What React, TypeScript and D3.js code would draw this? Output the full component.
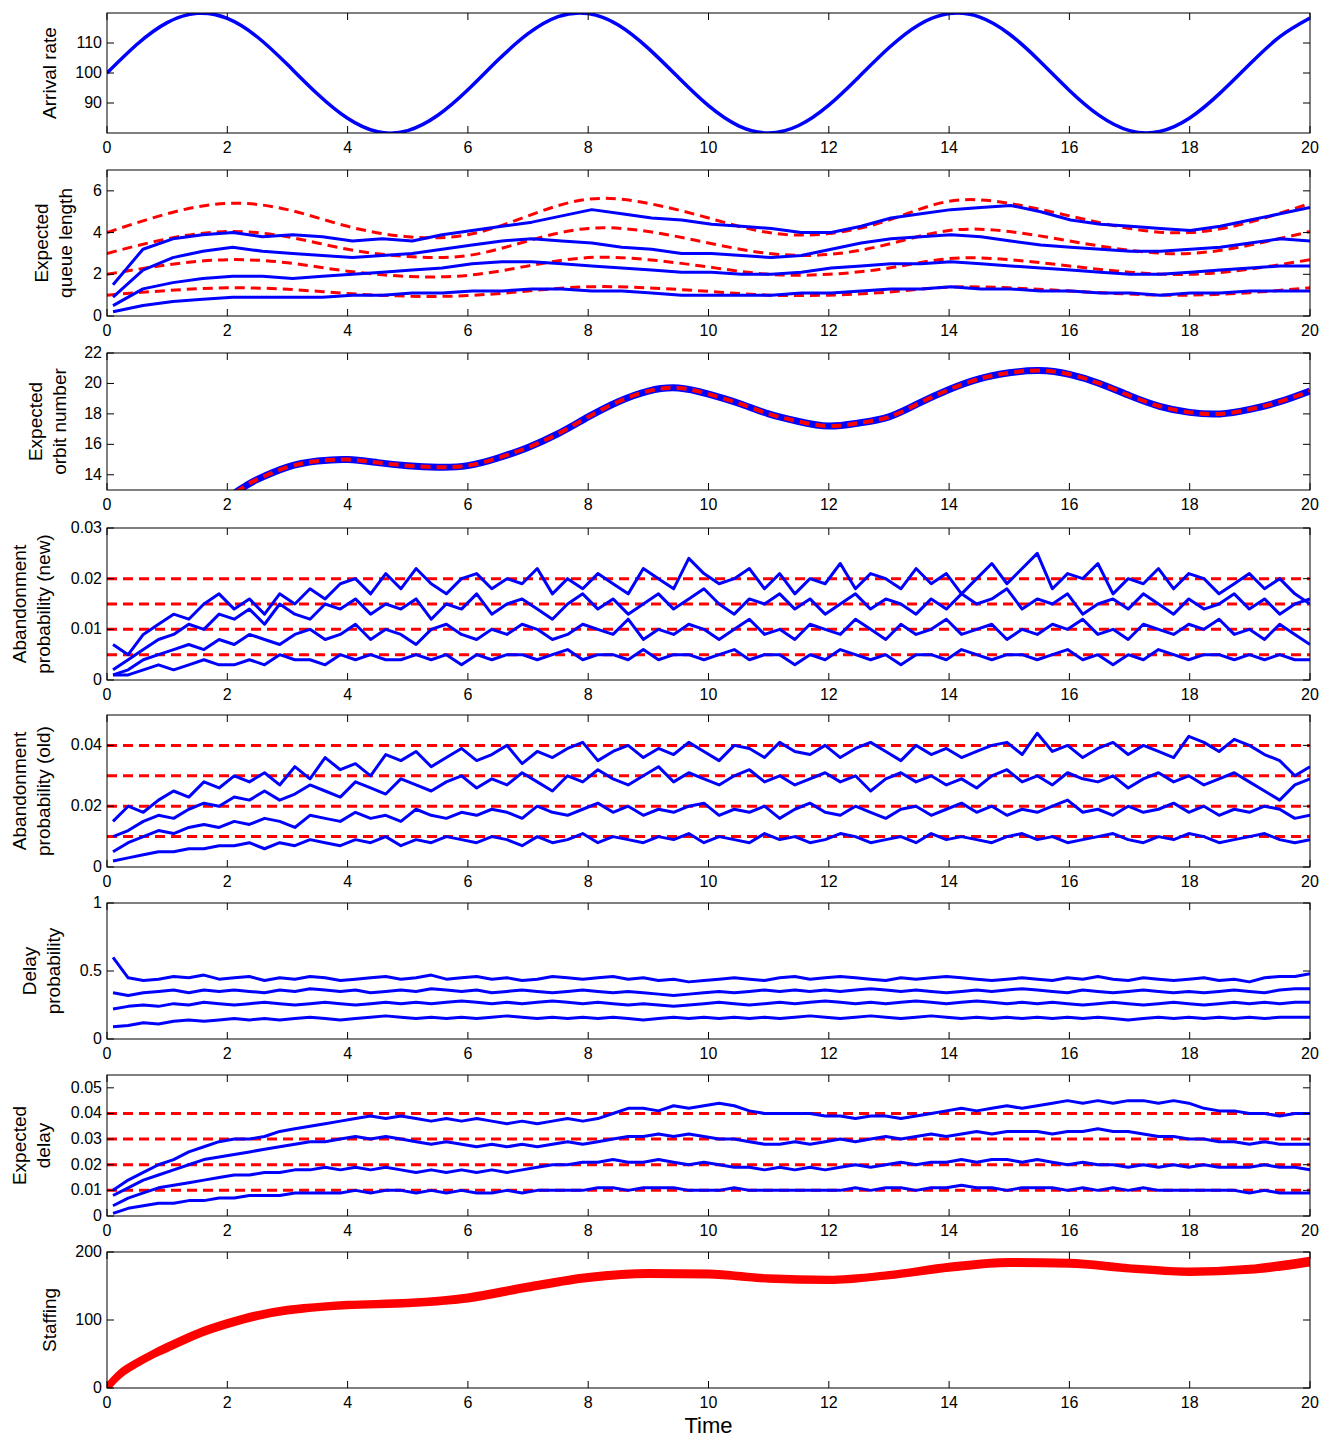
import React from "react";
import * as d3 from "d3";

const X_TICKS = [0, 2, 4, 6, 8, 10, 12, 14, 16, 18, 20];

const arrivalRate = [100,109.6,116.8,119.9,118.2,112,102.8,93,84.9,80.4,80.8,85.9,94.4,104.3,113.1,118.8,119.8,116,108.2,98.5,89.1,82.4,80,82.5,89.3,98.7,108.4,116.1,119.8,118.7,113,104.1,94.2,85.8,80.8,80.5,85,93.2,103,112.1,118.3];

const queueBlue = [
  [1.5,3.2,3.7,3.9,4.0,3.8,3.9,3.8,3.6,3.7,3.6,3.9,4.1,4.3,4.5,4.8,5.1,4.9,4.7,4.6,4.4,4.3,4.2,4.0,4.0,4.3,4.7,4.9,5.1,5.2,5.3,5.0,4.6,4.4,4.3,4.2,4.1,4.3,4.6,4.9,5.2],
  [0.9,2.2,2.8,3.1,3.3,3.1,3.0,2.9,2.8,2.9,3.0,3.2,3.4,3.6,3.7,3.6,3.5,3.3,3.2,3.0,3.0,2.9,2.8,2.9,3.2,3.5,3.7,3.8,3.9,3.8,3.6,3.4,3.3,3.2,3.1,3.1,3.2,3.3,3.5,3.7,3.6],
  [0.5,1.3,1.6,1.8,1.9,1.9,1.8,1.9,2.0,2.1,2.2,2.3,2.5,2.6,2.6,2.5,2.4,2.3,2.2,2.1,2.1,2.0,2.0,2.1,2.3,2.4,2.5,2.5,2.6,2.5,2.4,2.3,2.2,2.1,2.0,2.0,2.1,2.2,2.3,2.4,2.4],
  [0.2,0.5,0.7,0.8,0.9,0.9,0.9,0.9,1.0,1.0,1.1,1.1,1.2,1.2,1.3,1.3,1.2,1.2,1.1,1.0,1.0,1.0,1.0,1.1,1.1,1.2,1.3,1.3,1.4,1.3,1.3,1.2,1.2,1.1,1.1,1.0,1.1,1.1,1.2,1.2,1.2],
];
const queueRed = [
  [4.0,4.9,5.4,5.1,4.3,3.8,3.9,4.8,5.6,5.4,4.7,4.0,3.95,4.6,5.5,5.4,4.8,4.2,4.0,4.5,5.4],
  [3.0,3.7,4.05,3.8,3.2,2.85,2.9,3.6,4.2,4.05,3.5,3.0,2.95,3.45,4.1,4.05,3.6,3.15,3.0,3.4,4.05],
  [2.0,2.45,2.7,2.55,2.15,1.9,1.95,2.4,2.8,2.7,2.35,2.0,2.0,2.3,2.75,2.7,2.4,2.1,2.0,2.25,2.7],
  [1.0,1.22,1.35,1.28,1.08,0.95,0.98,1.2,1.4,1.35,1.18,1.0,1.0,1.15,1.38,1.35,1.2,1.05,1.0,1.12,1.35],
];

const orbitT = [0,1,1.5,2.2,2.5,3,3.5,4,4.5,5,5.5,6,6.5,7,7.5,8,8.5,9,9.5,10,10.5,11,11.5,12,12.5,13,13.5,14,14.5,15,15.5,16,16.5,17,17.5,18,18.5,19,19.5,20];
const orbitV = [5,9,11,13,13.7,14.5,14.9,15.0,14.8,14.6,14.5,14.6,15.1,15.8,16.7,17.8,18.8,19.5,19.7,19.3,18.7,18.0,17.5,17.2,17.4,17.8,18.7,19.6,20.3,20.7,20.85,20.6,20.0,19.2,18.5,18.1,18.0,18.3,18.8,19.5];

const abandonNewPermille = [
  [7,5,9,11,13,12,15,17,14,16,13,17,15,18,16,19,20,17,21,18,22,19,17,20,21,18,20,19,22,17,20,18,21,19,17,22,20,18,24,21,19,20,22,18,21,17,20,19,23,18,21,20,18,22,19,21,17,20,23,19,22,25,18,21,20,23,17,20,19,22,18,21,20,17,19,21,18,20,17,15],
  [2,4,6,8,9,11,10,13,12,14,11,15,13,12,15,14,16,13,15,14,16,12,15,14,17,13,15,16,14,12,15,17,14,16,13,15,17,14,16,18,15,13,16,15,17,14,16,13,15,17,14,16,15,13,16,14,17,15,16,18,14,16,15,17,13,15,16,14,17,15,13,16,14,15,17,14,16,13,15,16],
  [1,2,4,5,6,7,6,8,7,9,8,7,9,10,8,9,11,8,10,9,7,10,11,9,8,10,9,11,10,8,9,11,10,9,12,8,10,9,11,10,8,10,12,9,10,8,11,10,9,12,10,8,11,9,10,12,9,10,11,8,10,9,11,10,12,9,10,8,11,10,9,11,10,12,9,10,8,11,9,7],
  [1,1,2,3,2,3,4,3,3,4,3,5,4,4,3,5,4,5,4,4,5,4,5,3,5,4,5,5,4,5,6,4,5,5,4,6,4,5,5,4,5,6,4,5,5,3,5,4,6,5,4,5,3,5,5,4,6,5,4,5,5,4,5,6,4,5,3,5,4,6,5,4,5,5,4,5,4,5,4,4],
];
const abandonNewTargets = [0.005, 0.01, 0.015, 0.02];

const abandonOldPermille = [
  [15,20,18,22,25,23,28,26,30,28,31,27,33,29,36,32,34,30,37,35,38,33,36,39,35,37,40,34,38,36,39,41,35,38,40,36,39,37,41,38,35,40,39,36,41,38,37,40,36,39,41,38,35,40,37,39,36,38,40,41,37,44,38,40,36,39,41,37,40,38,36,43,41,38,42,40,37,35,30,33],
  [10,12,15,17,16,19,21,20,23,22,25,22,24,27,25,23,28,26,24,29,27,25,28,30,26,29,27,31,28,25,30,28,32,29,27,30,33,28,31,29,27,30,32,28,30,27,29,31,28,30,25,29,31,28,30,27,29,26,30,32,28,30,27,31,29,28,30,26,29,31,28,30,27,29,31,28,25,22,27,29],
  [5,8,10,12,11,13,14,13,15,14,16,15,13,17,16,15,18,16,17,15,19,17,16,18,17,19,18,16,20,18,17,19,21,18,20,17,19,18,20,21,17,19,18,20,16,19,21,18,17,20,18,16,19,20,17,19,21,18,20,17,19,18,20,22,18,19,17,20,18,19,21,18,20,17,19,18,20,19,16,17],
  [2,3,4,5,5,6,6,7,7,8,6,8,7,9,8,7,9,8,10,7,9,8,10,9,8,10,9,7,10,8,9,11,8,10,9,8,10,9,11,8,10,9,8,11,9,10,8,9,11,10,8,9,10,8,11,9,10,9,8,10,11,9,10,8,9,10,11,9,8,10,9,11,10,8,9,10,11,9,8,9],
];
const abandonOldTargets = [0.01, 0.02, 0.03, 0.04];

const delayProbPct = [
  [60,45,43,44,46,45,47,44,45,46,43,45,44,46,45,43,44,45,46,44,45,47,44,45,46,44,45,43,44,46,45,44,45,46,44,45,43,44,42,43,44,45,44,43,45,46,44,45,46,45,44,43,45,44,45,46,45,44,43,44,45,44,43,45,44,46,44,43,45,44,43,44,45,43,44,42,45,46,46,48],
  [34,32,34,35,36,34,36,35,36,35,34,36,35,37,36,35,36,34,35,36,35,37,36,35,36,34,35,36,35,34,35,36,35,34,35,34,33,32,33,34,35,34,35,36,35,36,35,36,35,36,37,36,35,36,35,34,35,36,35,36,37,36,35,34,36,35,34,35,36,35,34,35,34,35,36,35,34,36,37,37],
  [22,24,25,24,26,25,27,26,25,26,27,26,25,26,27,26,25,26,27,26,27,26,27,28,27,26,27,26,27,28,27,26,27,26,25,26,25,24,25,26,27,26,25,26,27,26,27,28,27,26,27,26,27,28,27,26,27,28,27,26,27,26,27,26,25,26,27,26,25,26,27,26,25,26,27,26,27,26,27,27],
  [9,10,12,11,13,14,13,14,15,14,15,14,15,16,15,14,15,16,17,16,15,16,15,16,15,16,17,16,15,16,15,16,15,16,15,14,15,16,15,16,15,16,15,16,15,16,17,16,15,16,17,16,15,16,17,16,15,16,15,16,15,16,15,16,15,16,15,14,15,16,15,16,15,16,15,16,15,16,16,16],
];

const delayPermille = [
  [10,14,17,20,22,25,27,29,30,30,31,33,34,35,36,37,38,39,38,39,38,37,38,37,38,37,36,37,36,37,38,37,38,40,42,42,41,43,42,43,44,43,41,40,40,40,40,39,39,38,39,39,38,39,40,41,42,41,42,43,42,43,44,45,44,45,44,45,45,44,45,44,42,41,41,40,40,39,40,40],
  [8,11,14,16,18,20,22,23,24,25,26,27,28,29,29,30,31,30,31,30,29,28,29,28,27,28,27,28,27,28,29,28,29,30,31,31,32,31,32,31,30,30,29,28,28,29,28,29,30,29,30,31,30,31,32,31,32,33,32,33,33,33,32,33,33,34,33,33,32,31,31,30,30,29,29,28,29,28,28,28],
  [4,7,9,11,12,13,14,15,16,16,17,17,18,18,19,18,19,18,19,18,17,18,17,18,17,18,17,18,19,20,20,21,21,22,21,21,22,21,20,21,20,19,19,18,19,18,19,18,19,20,19,20,21,20,21,21,22,21,22,22,21,22,21,20,21,20,20,19,20,19,20,19,20,19,19,19,20,19,19,18],
  [1,3,4,5,5,6,6,7,7,8,8,8,9,9,9,9,10,9,10,10,9,10,9,10,9,9,10,9,10,10,10,10,11,11,10,11,11,11,10,10,10,11,10,10,10,10,10,10,10,11,10,11,11,10,11,11,12,11,11,10,11,11,11,10,11,10,11,10,11,10,10,10,10,10,10,9,10,9,9,9],
];
const delayTargets = [0.01, 0.02, 0.03, 0.04];

const staffT = [0,0.1,0.25,0.5,0.75,1,1.5,2,2.5,3,3.5,4,5,6,7,8,9,10,11,12,13,14,15,16,17,18,19,20];
const staffV = [
  [0,10,22,36,48,58,78,93,105,113,118,121,124,131,147,161,167,166,160,158,165,176,183,182,175,170,173,184],
  [0,11,24,38,50,61,81,96,108,116,120,123,126,134,150,164,170,169,162,160,167,179,186,185,177,172,176,188],
];

const X0 = 107, X1 = 1310;
const blue = "#0000ff", red = "#ff0000";

type Line = { pts: [number, number][]; color: string; dash?: boolean; width: number; curve?: any };
type Panel = { top: number; bottom: number; domain: [number, number]; ticks: number[]; fmt: (v: number) => string; label: string[]; labelX: number[]; lines: Line[] };

const spread = (arr: number[], scale = 1, t0 = 0.1, t1 = 20): [number, number][] =>
  arr.map((v, i) => [t0 + (i * (t1 - t0)) / (arr.length - 1), v * scale]);
const hline = (v: number): [number, number][] => [[0, v], [20, v]];

const panels: Panel[] = [
  { top: 13, bottom: 133, domain: [80, 120], ticks: [90, 100, 110], fmt: String, label: ["Arrival rate"], labelX: [56],
    lines: [{ pts: spread(arrivalRate, 1, 0, 20), color: blue, width: 3.5, curve: d3.curveNatural }] },
  { top: 170, bottom: 316, domain: [0, 7], ticks: [0, 2, 4, 6], fmt: String, label: ["Expected", "queue length"], labelX: [48, 72],
    lines: [
      ...queueRed.map(a => ({ pts: spread(a, 1, 0, 20), color: red, dash: true, width: 3, curve: d3.curveNatural })),
      ...queueBlue.map(a => ({ pts: spread(a), color: blue, width: 3 })),
    ] },
  { top: 353, bottom: 490, domain: [13, 22], ticks: [14, 16, 18, 20, 22], fmt: String, label: ["Expected", "orbit number"], labelX: [42, 66],
    lines: [
      { pts: orbitT.map((t, i) => [t, orbitV[i]] as [number, number]), color: blue, width: 7, curve: d3.curveNatural },
      { pts: orbitT.map((t, i) => [t, orbitV[i]] as [number, number]), color: red, dash: true, width: 4, curve: d3.curveNatural },
    ] },
  { top: 528, bottom: 680, domain: [0, 0.03], ticks: [0, 0.01, 0.02, 0.03], fmt: v => (v === 0 ? "0" : String(v)), label: ["Abandonment", "probability (new)"], labelX: [26, 50],
    lines: [
      ...abandonNewTargets.map(v => ({ pts: hline(v), color: red, dash: true, width: 3 })),
      ...abandonNewPermille.map(a => ({ pts: spread(a, 0.001), color: blue, width: 3 })),
    ] },
  { top: 715, bottom: 867, domain: [0, 0.05], ticks: [0, 0.02, 0.04], fmt: v => (v === 0 ? "0" : String(v)), label: ["Abandonment", "probability (old)"], labelX: [26, 50],
    lines: [
      ...abandonOldTargets.map(v => ({ pts: hline(v), color: red, dash: true, width: 3 })),
      ...abandonOldPermille.map(a => ({ pts: spread(a, 0.001), color: blue, width: 3 })),
    ] },
  { top: 903, bottom: 1039, domain: [0, 1], ticks: [0, 0.5, 1], fmt: v => String(v), label: ["Delay", "probability"], labelX: [36, 60],
    lines: delayProbPct.map(a => ({ pts: spread(a, 0.01), color: blue, width: 3 })) },
  { top: 1075, bottom: 1216, domain: [0, 0.055], ticks: [0, 0.01, 0.02, 0.03, 0.04, 0.05], fmt: v => (v === 0 ? "0" : String(v)), label: ["Expected", "delay"], labelX: [26, 50],
    lines: [
      ...delayTargets.map(v => ({ pts: hline(v), color: red, dash: true, width: 3 })),
      ...delayPermille.map(a => ({ pts: spread(a, 0.001), color: blue, width: 3 })),
    ] },
  { top: 1252, bottom: 1388, domain: [0, 200], ticks: [0, 100, 200], fmt: String, label: ["Staffing"], labelX: [56],
    lines: staffV.map(a => ({ pts: staffT.map((t, i) => [t, a[i]] as [number, number]), color: red, width: 7, curve: d3.curveMonotoneX })) },
];

const x = d3.scaleLinear().domain([0, 20]).range([X0, X1]);
const FONT = "'Liberation Sans', Arial, sans-serif";

function PanelView({ p, idx }: { p: Panel; idx: number }) {
  const y = d3.scaleLinear().domain(p.domain).range([p.bottom, p.top]);
  const clipId = `clip${idx}`;
  const mid = (p.top + p.bottom) / 2;
  return (
    <g>
      <defs>
        <clipPath id={clipId}><rect x={X0} y={p.top} width={X1 - X0} height={p.bottom - p.top} /></clipPath>
      </defs>
      <rect x={X0} y={p.top} width={X1 - X0} height={p.bottom - p.top} fill="white" />
      <g clipPath={`url(#${clipId})`}>
        {p.lines.map((l, i) => {
          const gen = d3.line<[number, number]>().x(d => x(d[0])).y(d => y(d[1])).curve(l.curve || d3.curveLinear);
          return <path key={i} d={gen(l.pts) || ""} fill="none" stroke={l.color} strokeWidth={l.width}
            strokeDasharray={l.dash ? "10,6" : undefined} strokeLinejoin="round" />;
        })}
      </g>
      <rect x={X0} y={p.top} width={X1 - X0} height={p.bottom - p.top} fill="none" stroke="black" strokeWidth={1} />
      {X_TICKS.map(t => (
        <g key={t}>
          <line x1={x(t)} x2={x(t)} y1={p.bottom} y2={p.bottom - 7} stroke="black" />
          <line x1={x(t)} x2={x(t)} y1={p.top} y2={p.top + 7} stroke="black" />
          <text x={x(t)} y={p.bottom + 20} textAnchor="middle" fontSize={16} fontFamily={FONT}>{t}</text>
        </g>
      ))}
      {p.ticks.map(t => (
        <g key={t}>
          <line x1={X0} x2={X0 + 7} y1={y(t)} y2={y(t)} stroke="black" />
          <line x1={X1} x2={X1 - 7} y1={y(t)} y2={y(t)} stroke="black" />
          <text x={X0 - 5} y={y(t) + 5} textAnchor="end" fontSize={16} fontFamily={FONT}>{p.fmt(t)}</text>
        </g>
      ))}
      {p.label.map((s, i) => (
        <text key={i} transform={`translate(${p.labelX[i]},${mid}) rotate(-90)`} textAnchor="middle" fontSize={19} fontFamily={FONT}>{s}</text>
      ))}
    </g>
  );
}

export default function App() {
  return (
    <svg width={1330} height={1439} style={{ position: "absolute", left: 0, top: 0, background: "white" }}>
      <rect width={1330} height={1439} fill="white" />
      {panels.map((p, i) => <PanelView key={i} p={p} idx={i} />)}
      <text x={(X0 + X1) / 2} y={1433} textAnchor="middle" fontSize={22} fontFamily={FONT}>Time</text>
    </svg>
  );
}
